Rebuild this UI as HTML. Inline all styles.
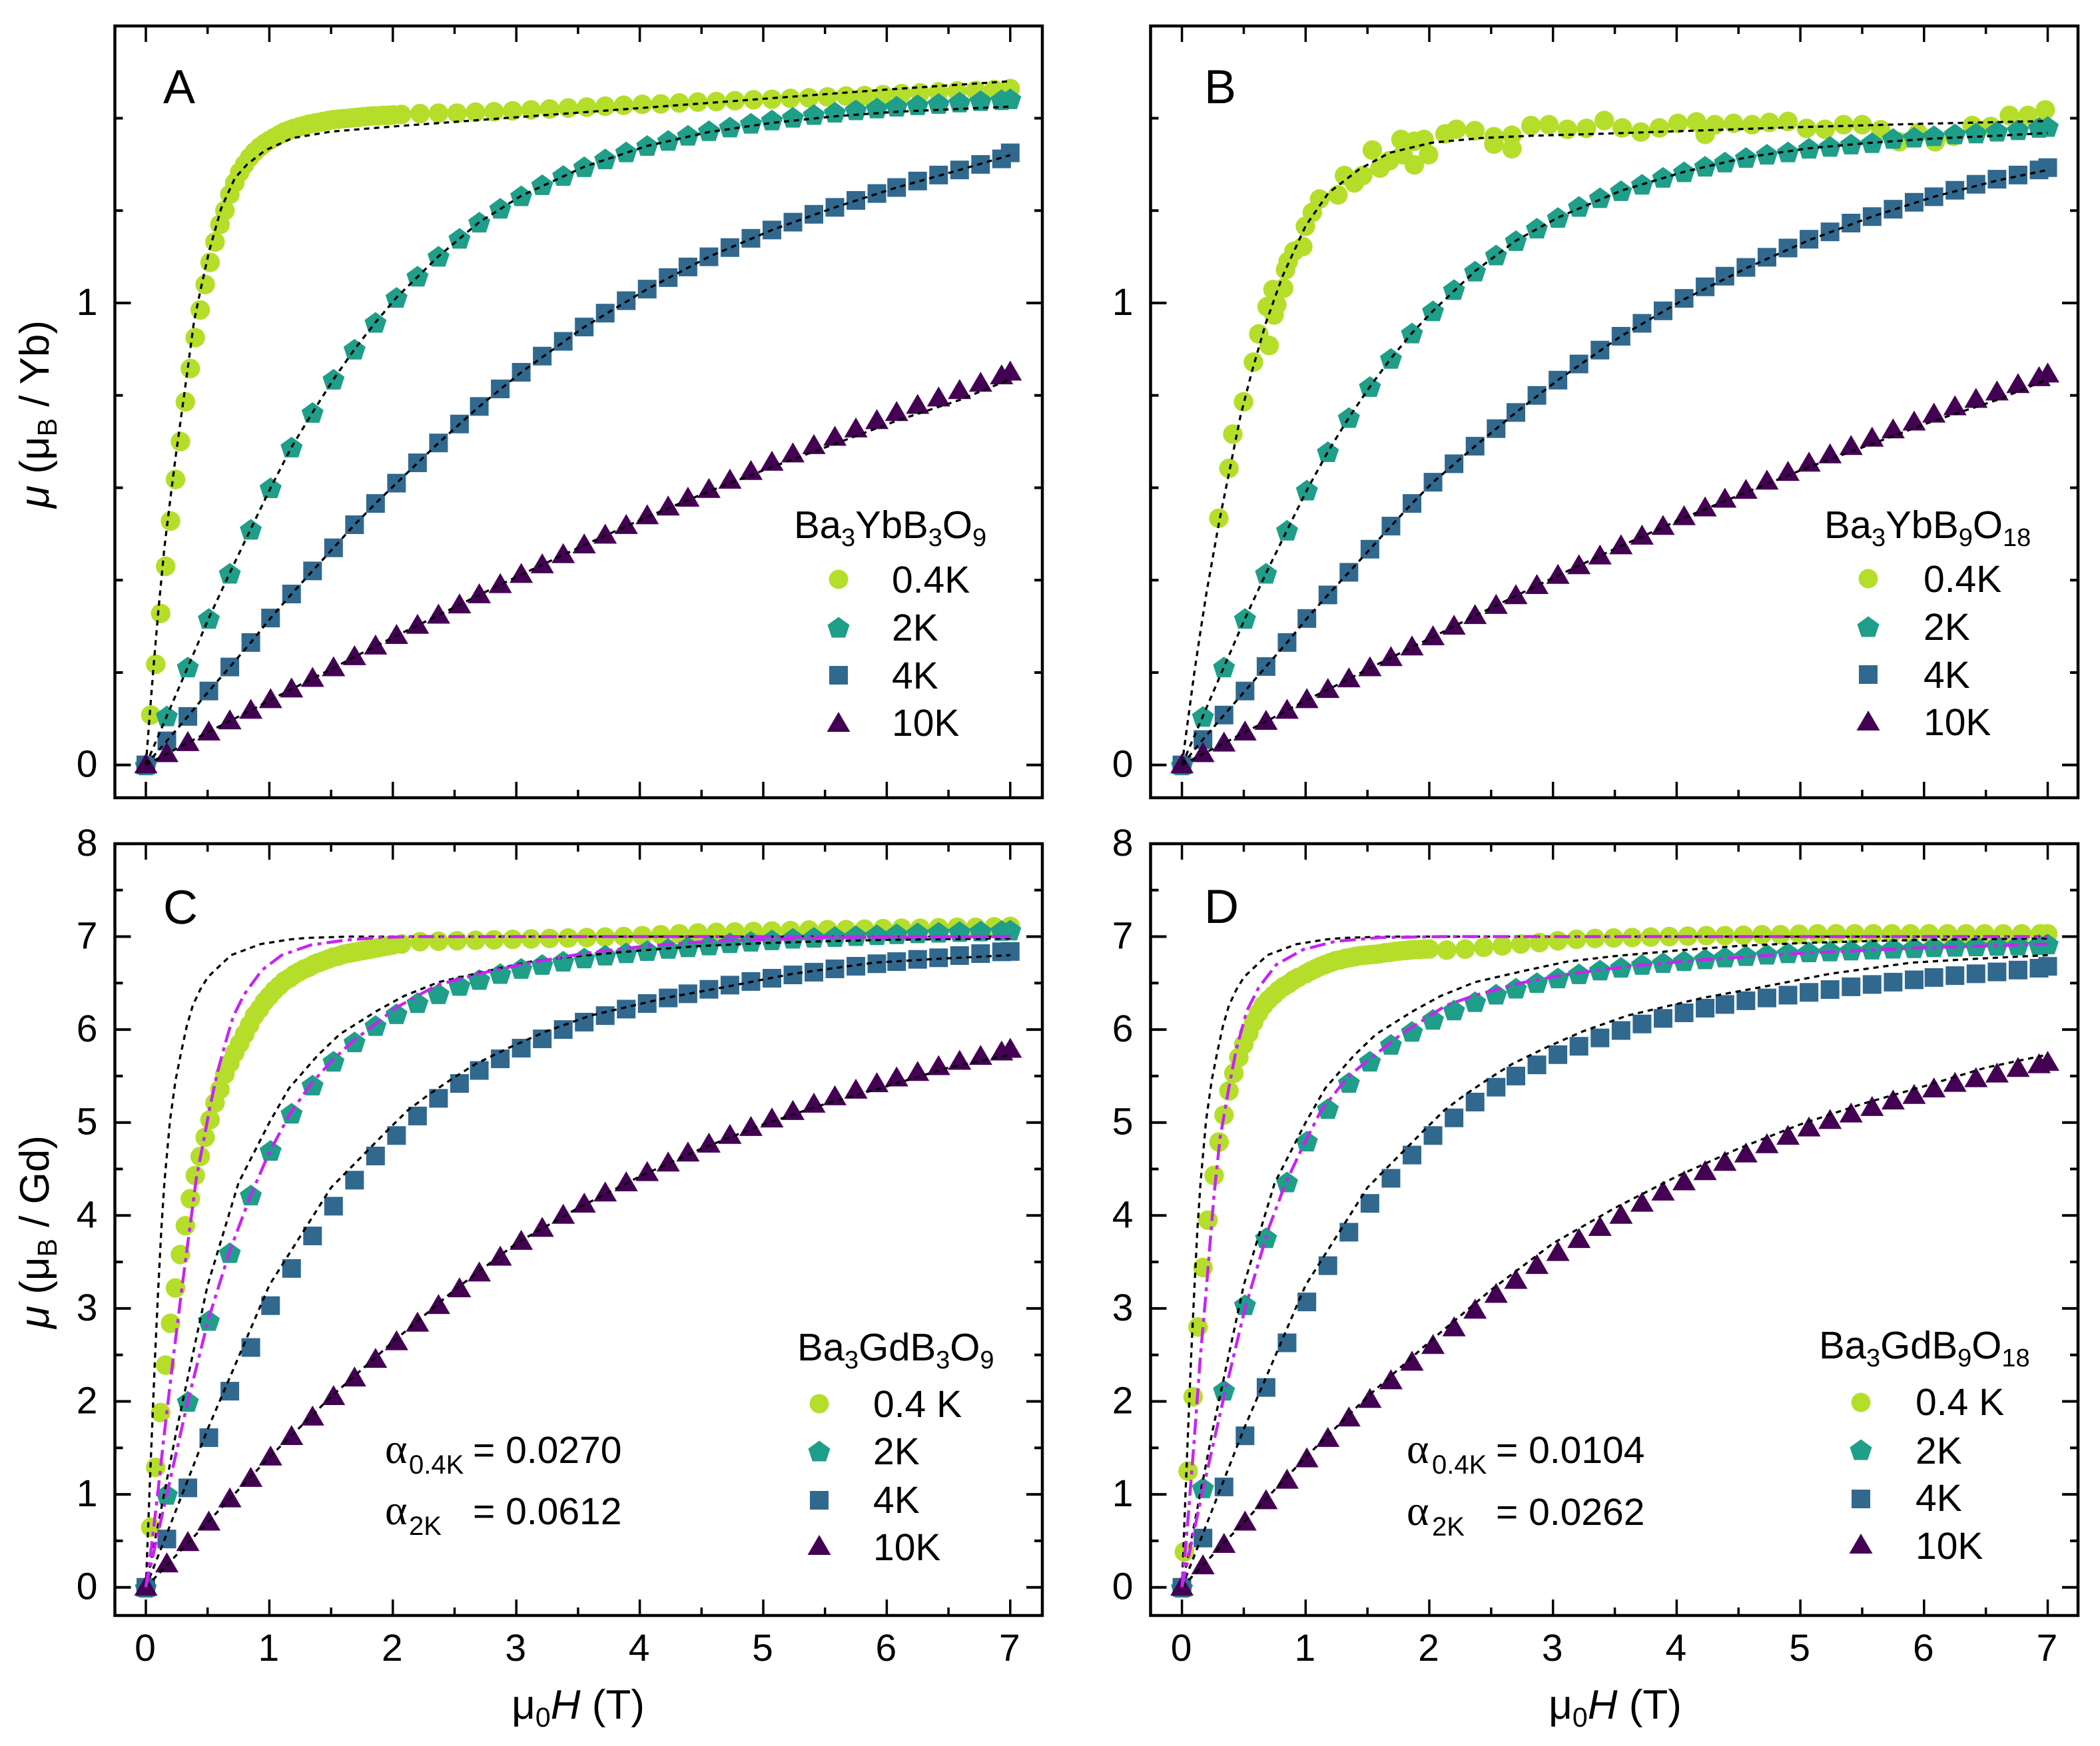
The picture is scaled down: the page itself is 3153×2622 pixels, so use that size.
<!DOCTYPE html>
<html lang="en">
<head>
<meta charset="utf-8">
<title>Magnetization curves of Ba3YbB3O9, Ba3YbB9O18, Ba3GdB3O9 and Ba3GdB9O18</title>
<style>
html,body{margin:0;padding:0;background:#fff;}
svg{display:block;}
text{font-family:"Liberation Sans",sans-serif;fill:#000;text-rendering:geometricPrecision;}
.lab{font-size:57px;}
.ttl{font-size:58px;}
.sub{font-size:40px;}
.tit{font-size:62px;}
.let{font-size:72px;}
.alpha{font-family:"Liberation Serif",serif;font-size:64px;}
.fr{fill:none;stroke:#000;stroke-width:4.5;}
</style>
</head>
<body>
<svg id="figure" xmlns="http://www.w3.org/2000/svg" width="3153" height="2622" viewBox="0 0 3153 2622">
<rect x="0" y="0" width="3153" height="2622" fill="#fff"/>

<g id="panel-a"></g>
<g id="panel-b"></g>
<g id="panel-c"></g>
<g id="panel-d"></g>

<text class="let" x="245" y="155">A</text>
<text class="let" x="1808" y="155">B</text>
<text class="let" x="245" y="1387">C</text>
<text class="let" x="1808" y="1386">D</text>

<text class="tit" transform="translate(73,622) rotate(-90)" text-anchor="middle"><tspan font-style="italic">μ</tspan> (μ<tspan font-size="41" dy="12">B</tspan><tspan dy="-12"> / Yb)</tspan></text>
<text class="tit" transform="translate(73,1850) rotate(-90)" text-anchor="middle"><tspan font-style="italic">μ</tspan> (μ<tspan font-size="41" dy="12">B</tspan><tspan dy="-12"> / Gd)</tspan></text>
<text class="tit" x="868" y="2581" text-anchor="middle">μ<tspan font-size="41" dy="12">0</tspan><tspan dy="-12" font-style="italic">H</tspan> (T)</text>
<text class="tit" x="2425" y="2581" text-anchor="middle">μ<tspan font-size="41" dy="12">0</tspan><tspan dy="-12" font-style="italic">H</tspan> (T)</text>

<g>
<text class="ttl" x="1192" y="808">Ba<tspan font-size="38" dy="12">3</tspan><tspan dy="-12">YbB</tspan><tspan font-size="38" dy="12">3</tspan><tspan dy="-12">O</tspan><tspan font-size="38" dy="12">9</tspan></text>
<circle cx="1259" cy="870" r="14.5" fill="#b5de2b"/>
<polygon transform="translate(1259,942)" points="0,-15.5 16.5,-3.5 10.2,15.5 -10.2,15.5 -16.5,-3.5" fill="#1f9e89"/>
<rect x="1245" y="1000" width="28" height="28" fill="#31688e"/>
<polygon transform="translate(1259,1086)" points="0,-17 17.5,13 -17.5,13" fill="#440154"/>
<text class="lab" x="1339" y="890">0.4K</text>
<text class="lab" x="1339" y="962">2K</text>
<text class="lab" x="1339" y="1034">4K</text>
<text class="lab" x="1339" y="1105">10K</text>
</g>

<g>
<text class="ttl" x="2739" y="808">Ba<tspan font-size="38" dy="12">3</tspan><tspan dy="-12">YbB</tspan><tspan font-size="38" dy="12">9</tspan><tspan dy="-12">O</tspan><tspan font-size="38" dy="12">18</tspan></text>
<circle cx="2805" cy="869" r="14.5" fill="#b5de2b"/>
<polygon transform="translate(2805,941)" points="0,-15.5 16.5,-3.5 10.2,15.5 -10.2,15.5 -16.5,-3.5" fill="#1f9e89"/>
<rect x="2791" y="999" width="28" height="28" fill="#31688e"/>
<polygon transform="translate(2805,1084)" points="0,-17 17.5,13 -17.5,13" fill="#440154"/>
<text class="lab" x="2888" y="889">0.4K</text>
<text class="lab" x="2888" y="961">2K</text>
<text class="lab" x="2888" y="1033">4K</text>
<text class="lab" x="2888" y="1104">10K</text>
</g>

<g>
<text class="ttl" x="1197" y="2043">Ba<tspan font-size="38" dy="12">3</tspan><tspan dy="-12">GdB</tspan><tspan font-size="38" dy="12">3</tspan><tspan dy="-12">O</tspan><tspan font-size="38" dy="12">9</tspan></text>
<circle cx="1230" cy="2108" r="14.5" fill="#b5de2b"/>
<polygon transform="translate(1230,2179)" points="0,-15.5 16.5,-3.5 10.2,15.5 -10.2,15.5 -16.5,-3.5" fill="#1f9e89"/>
<rect x="1216" y="2239" width="28" height="28" fill="#31688e"/>
<polygon transform="translate(1230,2322)" points="0,-17 17.5,13 -17.5,13" fill="#440154"/>
<text class="lab" x="1311" y="2128">0.4 K</text>
<text class="lab" x="1311" y="2199">2K</text>
<text class="lab" x="1311" y="2272">4K</text>
<text class="lab" x="1311" y="2343">10K</text>
</g>

<g>
<text class="ttl" x="2731" y="2040">Ba<tspan font-size="38" dy="12">3</tspan><tspan dy="-12">GdB</tspan><tspan font-size="38" dy="12">9</tspan><tspan dy="-12">O</tspan><tspan font-size="38" dy="12">18</tspan></text>
<circle cx="2794" cy="2106" r="14.5" fill="#b5de2b"/>
<polygon transform="translate(2794,2177)" points="0,-15.5 16.5,-3.5 10.2,15.5 -10.2,15.5 -16.5,-3.5" fill="#1f9e89"/>
<rect x="2780" y="2237" width="28" height="28" fill="#31688e"/>
<polygon transform="translate(2794,2320)" points="0,-17 17.5,13 -17.5,13" fill="#440154"/>
<text class="lab" x="2876" y="2125">0.4 K</text>
<text class="lab" x="2876" y="2198">2K</text>
<text class="lab" x="2876" y="2269">4K</text>
<text class="lab" x="2876" y="2341">10K</text>
</g>

<g>
<text class="alpha" x="578" y="2197">α</text>
<text class="sub" x="614" y="2213">0.4K</text>
<text class="lab" x="710" y="2197">= 0.0270</text>
<text class="alpha" x="578" y="2289">α</text>
<text class="sub" x="614" y="2305">2K</text>
<text class="lab" x="710" y="2289">= 0.0612</text>
</g>
<g>
<text class="alpha" x="2112" y="2197">α</text>
<text class="sub" x="2150" y="2213">0.4K</text>
<text class="lab" x="2246" y="2197">= 0.0104</text>
<text class="alpha" x="2112" y="2290">α</text>
<text class="sub" x="2150" y="2306">2K</text>
<text class="lab" x="2246" y="2290">= 0.0262</text>
</g>
</svg>

<script>
/* ---------- shared axes ---------- */
const xMajorTicks = [0,1,2,3,4,5,6,7];
const xMinorTicks = [0.5,1.5,2.5,3.5,4.5,5.5,6.5];
const xTickLabels = ["0","1","2","3","4","5","6","7"];
const yMajorYb = [0,1];
const yMinorYb = [0.2,0.4,0.6,0.8,1.2,1.4];
const yLabelsYb = ["0","1"];
const yMajorGd = [0,1,2,3,4,5,6,7];
const yMinorGd = [0.5,1.5,2.5,3.5,4.5,5.5,6.5,7.5];
const yLabelsGd = ["0","1","2","3","4","5","6","7","8"];

/* ---------- field grids (T) ---------- */
const fieldGrid = [0,0.17,0.34,0.51,0.68,0.85,1.01,1.18,1.35,1.52,1.69,1.86,2.03,2.2,2.37,2.54,2.7,2.87,3.04,3.21,3.38,3.55,3.72,3.89,4.06,4.23,4.39,4.56,4.73,4.9,5.07,5.24,5.41,5.58,5.75,5.92,6.08,6.25,6.42,6.59,6.76,6.93,7];
const fieldCold = [0,0.04,0.08,0.12,0.16,0.2,0.24,0.28,0.32,0.36,0.4,0.44,0.48,0.52,0.56,0.6,0.64,0.68,0.72,0.76,0.8,0.84,0.88,0.92,0.96,1,1.04,1.08,1.12,1.16,1.2,1.24,1.28,1.32,1.36,1.4,1.44,1.48,1.52,1.56,1.6,1.64,1.68,1.72,1.76,1.8,1.84,1.88,1.92,1.96,2,2.07,2.22,2.37,2.52,2.67,2.82,2.97,3.12,3.27,3.42,3.57,3.72,3.87,4.02,4.17,4.32,4.47,4.62,4.77,4.92,5.07,5.22,5.37,5.52,5.67,5.82,5.97,6.12,6.27,6.42,6.57,6.72,6.87,7];
const fieldColdD = [0,0.02,0.05,0.09,0.13,0.17,0.21,0.26,0.3,0.34,0.38,0.42,0.46,0.5,0.54,0.58,0.62,0.66,0.7,0.74,0.78,0.82,0.86,0.9,0.94,1,1.04,1.08,1.12,1.16,1.2,1.24,1.28,1.32,1.36,1.4,1.44,1.48,1.52,1.56,1.6,1.64,1.68,1.72,1.76,1.8,1.84,1.88,1.92,1.96,2,2.14,2.29,2.44,2.59,2.74,2.89,3.04,3.19,3.34,3.49,3.64,3.79,3.94,4.09,4.24,4.39,4.54,4.69,4.84,4.99,5.14,5.29,5.44,5.59,5.74,5.89,6.04,6.19,6.34,6.49,6.64,6.79,6.94,7];
const fieldColdB = [0,0.298,0.38,0.411,0.498,0.578,0.621,0.705,0.689,0.767,0.745,0.736,0.822,0.838,0.859,0.906,0.977,0.998,1.054,1.113,1.261,1.314,1.394,1.462,1.601,1.539,1.678,1.787,1.771,1.879,1.879,1.957,1.994,2.127,2.219,2.368,2.522,2.522,2.668,2.668,2.822,2.967,3.116,3.27,3.415,3.56,3.71,3.86,4.01,4.16,4.31,4.23,4.46,4.61,4.75,4.9,5.05,5.2,5.35,5.5,5.65,5.8,5.95,6.09,6.24,6.39,6.54,6.69,6.84,6.98];
const fitFieldGrid = [0,0.17,0.34,0.51,0.68,0.85,1.01,1.18,1.35,1.52,1.69,1.86,2.03,2.37,2.7,3.04,3.55,4.06,4.56,5.07,5.58,6.08,6.59,7];

/* ---------- panel A values ---------- */
const momentA04 = [0,0.108,0.218,0.328,0.43,0.528,0.618,0.7,0.786,0.858,0.925,0.985,1.04,1.088,1.132,1.17,1.2,1.235,1.26,1.283,1.3,1.315,1.327,1.337,1.345,1.352,1.358,1.364,1.37,1.374,1.378,1.381,1.384,1.387,1.389,1.391,1.393,1.395,1.397,1.398,1.399,1.4,1.401,1.402,1.403,1.404,1.405,1.405,1.406,1.406,1.407,1.408,1.41,1.411,1.411,1.413,1.414,1.416,1.418,1.42,1.422,1.424,1.426,1.428,1.43,1.431,1.433,1.435,1.436,1.438,1.44,1.441,1.443,1.444,1.446,1.448,1.449,1.451,1.453,1.455,1.457,1.459,1.46,1.462,1.464];
const momentA2 = [0,0.106,0.212,0.317,0.415,0.51,0.6,0.688,0.763,0.835,0.9,0.958,1.012,1.058,1.101,1.14,1.175,1.205,1.232,1.256,1.276,1.295,1.312,1.327,1.341,1.352,1.363,1.373,1.381,1.389,1.396,1.402,1.408,1.413,1.418,1.422,1.426,1.429,1.432,1.435,1.438,1.44,1.442];
const momentA4 = [0,0.052,0.105,0.16,0.212,0.265,0.318,0.37,0.42,0.47,0.52,0.566,0.61,0.654,0.697,0.738,0.776,0.814,0.85,0.885,0.917,0.948,0.978,1.005,1.03,1.055,1.078,1.1,1.12,1.14,1.158,1.175,1.192,1.207,1.222,1.237,1.25,1.264,1.277,1.288,1.3,1.312,1.325];
const momentA10 = [0,0.024,0.048,0.071,0.095,0.118,0.141,0.164,0.187,0.21,0.234,0.257,0.28,0.302,0.324,0.346,0.368,0.39,0.412,0.433,0.455,0.476,0.497,0.518,0.539,0.558,0.577,0.596,0.616,0.635,0.655,0.673,0.691,0.709,0.727,0.745,0.7625,0.778,0.794,0.81,0.826,0.842,0.85];
const fitA04Field = [0,0.03,0.06,0.1,0.15,0.2,0.24,0.32,0.39,0.44,0.51,0.61,0.72,0.82,0.97,1.19,1.5,2,3,4,5,6,7];
const fitA04 = [0,0.105,0.205,0.33,0.47,0.58,0.665,0.82,0.96,1.025,1.11,1.205,1.27,1.3,1.331,1.357,1.371,1.382,1.402,1.422,1.442,1.462,1.48];
const fitA2 = [0,0.106,0.212,0.318,0.416,0.511,0.6,0.688,0.763,0.835,0.9,0.958,1.012,1.101,1.175,1.232,1.295,1.34,1.37,1.39,1.404,1.414,1.42,1.425];
const fitA4 = [0,0.052,0.105,0.16,0.212,0.265,0.318,0.37,0.42,0.47,0.52,0.566,0.61,0.697,0.776,0.85,0.948,1.03,1.1,1.158,1.207,1.25,1.288,1.32];
const fitA10 = [0,0.024,0.048,0.072,0.095,0.118,0.141,0.164,0.187,0.21,0.234,0.257,0.28,0.324,0.368,0.412,0.476,0.537,0.592,0.645,0.695,0.745,0.79,0.835];

/* ---------- panel B values ---------- */
const momentB04 = [0,0.534,0.642,0.716,0.786,0.872,0.933,0.908,0.992,0.996,0.974,1.029,1.032,1.072,1.09,1.112,1.122,1.166,1.196,1.225,1.234,1.276,1.26,1.276,1.292,1.331,1.308,1.321,1.354,1.299,1.35,1.354,1.321,1.366,1.376,1.373,1.36,1.344,1.363,1.334,1.384,1.386,1.376,1.378,1.395,1.379,1.37,1.379,1.389,1.392,1.386,1.365,1.389,1.386,1.391,1.393,1.378,1.376,1.386,1.386,1.375,1.349,1.368,1.349,1.361,1.384,1.382,1.406,1.406,1.418];
const momentB2 = [0,0.105,0.212,0.317,0.415,0.508,0.595,0.678,0.752,0.819,0.88,0.935,0.983,1.029,1.069,1.104,1.135,1.162,1.185,1.209,1.228,1.243,1.257,1.272,1.284,1.296,1.305,1.315,1.322,1.327,1.335,1.339,1.344,1.347,1.356,1.359,1.362,1.366,1.368,1.372,1.375,1.38,1.382];
const momentB4 = [0,0.055,0.108,0.16,0.213,0.265,0.317,0.368,0.417,0.467,0.517,0.566,0.612,0.652,0.69,0.728,0.763,0.8,0.833,0.868,0.898,0.928,0.956,0.983,1.01,1.035,1.058,1.077,1.099,1.119,1.138,1.154,1.173,1.187,1.203,1.218,1.23,1.244,1.257,1.268,1.277,1.288,1.293];
const momentB10 = [0,0.024,0.047,0.071,0.094,0.118,0.141,0.163,0.186,0.21,0.232,0.255,0.277,0.3,0.323,0.345,0.366,0.388,0.41,0.431,0.452,0.474,0.495,0.516,0.537,0.556,0.575,0.594,0.614,0.633,0.653,0.671,0.689,0.707,0.725,0.742,0.759,0.775,0.791,0.807,0.823,0.838,0.846];
const fitB04Field = [0,0.05,0.1,0.15,0.2,0.3,0.396,0.473,0.566,0.68,0.813,1,1.184,1.431,1.678,2.02,2.42,2.82,3.35,4.15,4.9,6,7];
const fitB04 = [0,0.1,0.2,0.29,0.375,0.525,0.652,0.755,0.852,0.958,1.058,1.167,1.238,1.289,1.325,1.347,1.357,1.362,1.366,1.373,1.38,1.388,1.394];
const fitB2 = [0,0.106,0.212,0.317,0.415,0.508,0.595,0.678,0.752,0.819,0.88,0.935,0.983,1.069,1.135,1.185,1.243,1.284,1.315,1.335,1.347,1.356,1.362,1.368];
const fitB4 = [0,0.055,0.108,0.16,0.213,0.265,0.317,0.368,0.417,0.467,0.517,0.566,0.612,0.69,0.763,0.833,0.928,1.008,1.075,1.136,1.187,1.23,1.265,1.288];
const fitB10 = [0,0.024,0.047,0.071,0.094,0.118,0.141,0.163,0.186,0.21,0.232,0.255,0.277,0.323,0.366,0.41,0.474,0.535,0.59,0.645,0.695,0.745,0.79,0.835];

/* ---------- panel C values ---------- */
const momentC04 = [0,0.645,1.29,1.88,2.39,2.84,3.22,3.58,3.89,4.18,4.43,4.635,4.84,5.03,5.21,5.356,5.52,5.64,5.75,5.85,5.95,6.05,6.15,6.22,6.3,6.36,6.42,6.47,6.52,6.55,6.59,6.62,6.65,6.67,6.7,6.72,6.74,6.76,6.78,6.79,6.81,6.82,6.83,6.84,6.85,6.86,6.87,6.88,6.89,6.9,6.91,6.92,6.945,6.95,6.955,6.96,6.965,6.97,6.975,6.98,6.985,6.99,6.995,7,7.01,7.02,7.03,7.04,7.045,7.05,7.055,7.06,7.065,7.07,7.075,7.075,7.08,7.085,7.09,7.09,7.095,7.1,7.1,7.105,7.11];
const momentC2 = [0,1,2,2.87,3.6,4.22,4.7,5.1,5.403,5.659,5.867,6.043,6.17,6.289,6.385,6.474,6.538,6.602,6.657,6.7,6.735,6.77,6.8,6.825,6.85,6.873,6.89,6.91,6.934,6.95,6.965,6.982,6.992,7,7.01,7.02,7.03,7.04,7.047,7.055,7.06,7.065,7.07];
const momentC4 = [0,0.52,1.07,1.61,2.11,2.58,3.03,3.43,3.78,4.1,4.38,4.64,4.86,5.07,5.26,5.42,5.56,5.685,5.8,5.9,6,6.08,6.15,6.22,6.28,6.34,6.385,6.433,6.478,6.517,6.552,6.588,6.617,6.653,6.681,6.708,6.731,6.755,6.772,6.796,6.817,6.836,6.84];
const momentC10 = [0,0.25,0.48,0.7,0.95,1.17,1.4,1.62,1.83,2.05,2.25,2.45,2.64,2.84,3.03,3.21,3.38,3.55,3.72,3.86,4,4.12,4.24,4.35,4.46,4.563,4.67,4.766,4.86,4.945,5.036,5.117,5.196,5.275,5.346,5.416,5.478,5.537,5.6,5.657,5.71,5.757,5.786];
const magC04Field = [0,0.03,0.06,0.1,0.14,0.18,0.22,0.3,0.41,0.473,0.518,0.58,0.643,0.707,0.797,0.94,1.1,1.336,1.606,1.875,2.15,3,7];
const magC04 = [0,0.28,0.6,1.05,1.55,2,2.45,3.3,4.41,4.84,5.16,5.54,5.85,6.14,6.38,6.64,6.8,6.91,6.96,6.99,7,7,7];
const magC2Field = [0,0.17,0.34,0.51,0.68,0.85,1,1.17,1.34,1.51,1.68,1.85,2.02,2.36,2.7,3.04,3.55,4.06,4.56,5.07,5.58,7];
const magC2 = [0,1,2,2.9,3.62,4.22,4.68,5.1,5.42,5.67,5.88,6.05,6.23,6.48,6.6,6.7,6.82,6.9,6.95,6.97,6.99,7];

/* ---------- panel D values ---------- */
const momentD04 = [0,0.38,1.25,2.05,2.8,3.44,3.95,4.43,4.79,5.08,5.34,5.53,5.7,5.84,5.96,6.08,6.18,6.26,6.32,6.37,6.42,6.46,6.49,6.53,6.56,6.6,6.63,6.655,6.68,6.7,6.72,6.74,6.75,6.765,6.775,6.785,6.795,6.8,6.805,6.81,6.815,6.825,6.83,6.84,6.845,6.85,6.855,6.86,6.862,6.865,6.867,6.855,6.865,6.885,6.9,6.92,6.935,6.955,6.97,6.98,6.985,6.99,6.995,7,7.005,7.01,7.01,7.015,7.02,7.02,7.025,7.03,7.03,7.03,7.03,7.03,7.03,7.03,7.03,7.03,7.03,7.03,7.03,7.03,7.03];
const momentD2 = [0,1.07,2.12,3.04,3.76,4.36,4.8,5.15,5.43,5.66,5.84,5.98,6.11,6.21,6.3,6.38,6.445,6.505,6.555,6.6,6.64,6.67,6.7,6.72,6.74,6.76,6.78,6.795,6.81,6.825,6.835,6.845,6.855,6.865,6.875,6.88,6.89,6.895,6.9,6.905,6.91,6.915,6.92];
const momentD4 = [0,0.53,1.08,1.63,2.15,2.63,3.07,3.46,3.82,4.13,4.4,4.65,4.86,5.05,5.22,5.38,5.5,5.62,5.73,5.82,5.91,5.99,6.06,6.12,6.18,6.23,6.27,6.31,6.34,6.37,6.4,6.43,6.46,6.485,6.51,6.535,6.56,6.58,6.6,6.62,6.64,6.66,6.68];
const momentD10 = [0,0.23,0.46,0.7,0.93,1.15,1.38,1.6,1.82,2.02,2.22,2.42,2.6,2.79,2.98,3.15,3.3,3.46,3.6,3.74,3.87,4,4.13,4.25,4.36,4.47,4.57,4.66,4.76,4.85,4.94,5.02,5.09,5.16,5.23,5.29,5.36,5.42,5.47,5.52,5.58,5.62,5.645];
const magD04Field = [0,0.05,0.1,0.15,0.2,0.236,0.26,0.308,0.38,0.44,0.524,0.62,0.764,0.98,1.245,1.606,2.13,3,7];
const magD04 = [0,0.75,1.6,2.5,3.25,3.84,4.23,4.83,5.38,5.79,6.2,6.45,6.7,6.86,6.95,6.99,7,7,7];
const magD2Field = [0,0.17,0.34,0.51,0.704,0.836,0.98,1.125,1.341,1.486,1.774,2.135,2.375,2.736,3.096,3.6,4.2,5,6,7];
const magD2 = [0,1.05,2.05,3,3.87,4.34,4.75,5.13,5.49,5.65,5.95,6.26,6.37,6.5,6.59,6.68,6.75,6.82,6.88,6.92];

/* ---------- Gd paramagnet reference curves (panels C, D) ---------- */
const gdFit04Field = [0,0.03,0.05,0.075,0.1,0.125,0.15,0.195,0.24,0.285,0.33,0.38,0.44,0.5,0.53,0.69,0.93,1.17,1.3,1.65,1.85,2.5,4,7];
const gdFit04 = [0,1.05,1.7,2.5,3.2,3.85,4.35,5.02,5.45,5.75,6.03,6.26,6.43,6.56,6.6,6.8,6.92,6.97,6.986,7,7,7,7,7];
const gdFit2Field = [0,0.25,0.5,0.75,1,1.16,1.39,1.57,1.87,2.09,2.37,2.76,3.11,3.5,4,4.5,5,5.5,6,7];
const gdFit2 = [0,1.7,3.25,4.35,5,5.37,5.72,5.95,6.2,6.36,6.51,6.63,6.73,6.79,6.85,6.9,6.93,6.95,6.965,6.98];
const gdFit4Field = [0,0.5,1,1.5,1.96,2.12,2.29,2.48,2.67,2.95,3.24,3.6,4.21,4.7,5.24,5.9,6.4,7];
const gdFit4 = [0,1.7,3.25,4.3,4.92,5.13,5.3,5.47,5.63,5.81,5.98,6.15,6.34,6.46,6.6,6.72,6.76,6.8];
const gdFit10Field = [0,0.5,1,1.5,2,2.5,3,3.5,4,4.5,5,5.5,6,6.5,7];
const gdFit10 = [0,0.7,1.4,2.05,2.64,3.2,3.7,4.08,4.42,4.72,4.98,5.2,5.39,5.59,5.73];

const SVGNS = 'http://www.w3.org/2000/svg';
const COLORS = {cold:'#b5de2b', two:'#1f9e89', four:'#31688e', ten:'#440154', magenta:'#c724f2'};

function xAxis(panel, v){ return panel.x0 + v * panel.xUnit; }
function yAxis(panel, v){ return panel.y0 - v * panel.yUnit; }

function addTickLine(group, x1, y1, x2, y2, width){
  const line = document.createElementNS(SVGNS, 'line');
  line.setAttribute('x1', x1);
  line.setAttribute('y1', y1);
  line.setAttribute('x2', x2);
  line.setAttribute('y2', y2);
  line.setAttribute('stroke', '#000');
  line.setAttribute('stroke-width', width);
  
  
  group.appendChild(line);
}

function addLabel(group, x, y, txt, anchor, name){
  const t = document.createElementNS(SVGNS, 'text');
  t.setAttribute('x', x);
  t.setAttribute('y', y);
  t.setAttribute('text-anchor', anchor);
  t.setAttribute('font-size', '57');
  
  
  t.textContent = txt;
  group.appendChild(t);
}

function drawMarker(group, shape, px, py, seriesName){
  let el;
  if (shape === 'circle') {
    el = document.createElementNS(SVGNS, 'circle');
    el.setAttribute('cx', px);
    el.setAttribute('cy', py);
    el.setAttribute('r', 14.7);
    el.setAttribute('fill', COLORS.cold);
  } else if (shape === 'pentagon') {
    el = document.createElementNS(SVGNS, 'polygon');
    el.setAttribute('points', '0,-15.5 16.5,-3.5 10.2,15.5 -10.2,15.5 -16.5,-3.5');
    el.setAttribute('transform', 'translate(' + px + ',' + py + ')');
    el.setAttribute('fill', COLORS.two);
  } else if (shape === 'square') {
    el = document.createElementNS(SVGNS, 'rect');
    el.setAttribute('x', px - 14);
    el.setAttribute('y', py - 14);
    el.setAttribute('width', 28);
    el.setAttribute('height', 28);
    el.setAttribute('fill', COLORS.four);
  } else {
    el = document.createElementNS(SVGNS, 'polygon');
    el.setAttribute('points', '0,-17.5 17.5,12.5 -17.5,12.5');
    el.setAttribute('transform', 'translate(' + px + ',' + py + ')');
    el.setAttribute('fill', COLORS.ten);
  }
  
  
  group.appendChild(el);
}

function drawSeries(panel, xs, ys, shape, seriesName){
  const g = document.createElementNS(SVGNS, 'g');
  
  
  for (let i = 0; i < ys.length; i++) {
    drawMarker(g, shape, xAxis(panel, xs[i]), yAxis(panel, ys[i]), seriesName);
  }
  panel.el.appendChild(g);
}

function drawCurve(panel, xs, ys, kind, name){
  const pts = [];
  for (let i = 0; i < ys.length; i++) {
    pts.push(xAxis(panel, xs[i]).toFixed(1) + ',' + yAxis(panel, ys[i]).toFixed(1));
  }
  const line = document.createElementNS(SVGNS, 'polyline');
  line.setAttribute('points', pts.join(' '));
  line.setAttribute('fill', 'none');
  if (kind === 'magenta') {
    line.setAttribute('stroke', COLORS.magenta);
    line.setAttribute('stroke-width', '4.5');
    line.setAttribute('stroke-dasharray', '24 8 6 8');
  } else {
    line.setAttribute('stroke', '#000');
    line.setAttribute('stroke-width', '3.3');
    line.setAttribute('stroke-dasharray', '8 7');
  }
  
  
  panel.el.appendChild(line);
}

function drawAxes(panel){
  const g = document.createElementNS(SVGNS, 'g');
  
  
  xMajorTicks.forEach(function(v){
    const x = xAxis(panel, v);
    addTickLine(g, x, panel.bottom, x, panel.bottom - 24, 3.5);
    addTickLine(g, x, panel.top, x, panel.top + 24, 3.5);
  });
  xMinorTicks.forEach(function(v){
    const x = xAxis(panel, v);
    addTickLine(g, x, panel.bottom, x, panel.bottom - 12, 3.5);
    addTickLine(g, x, panel.top, x, panel.top + 12, 3.5);
  });
  panel.yMajor.forEach(function(v){
    const y = yAxis(panel, v);
    addTickLine(g, panel.left, y, panel.left + 24, y, 4);
    addTickLine(g, panel.right, y, panel.right - 24, y, 4);
  });
  panel.yMinor.forEach(function(v){
    const y = yAxis(panel, v);
    addTickLine(g, panel.left, y, panel.left + 12, y, 4);
    addTickLine(g, panel.right, y, panel.right - 12, y, 4);
  });
  panel.yLabels.forEach(function(txt, i){
    addLabel(g, panel.left - 26, yAxis(panel, i) + 18, txt, 'end', 'y-tick-label');
  });
  if (panel.showX) {
    xTickLabels.forEach(function(txt, i){
      addLabel(g, xAxis(panel, i) - 1, 2494, txt, 'middle', 'x-tick-label');
    });
  }
  const frame = document.createElementNS(SVGNS, 'rect');
  frame.setAttribute('x', panel.left);
  frame.setAttribute('y', panel.top);
  frame.setAttribute('width', panel.right - panel.left);
  frame.setAttribute('height', panel.bottom - panel.top);
  frame.setAttribute('class', 'fr');
  
  
  g.appendChild(frame);
  panel.el.appendChild(g);
}

const panelA = {el:document.getElementById('panel-a'), left:172.5, right:1565, top:39, bottom:1198, x0:219, xUnit:185.4, y0:1148.7, yUnit:693.7, yMajor:yMajorYb, yMinor:yMinorYb, yLabels:yLabelsYb, showX:false};
const panelB = {el:document.getElementById('panel-b'), left:1727.5, right:3120, top:39, bottom:1198, x0:1774.6, xUnit:185.7, y0:1148.7, yUnit:693.7, yMajor:yMajorYb, yMinor:yMinorYb, yLabels:yLabelsYb, showX:false};
const panelC = {el:document.getElementById('panel-c'), left:172.5, right:1565, top:1267, bottom:2426, x0:219, xUnit:185.4, y0:2383.7, yUnit:139.6, yMajor:yMajorGd, yMinor:yMinorGd, yLabels:yLabelsGd, showX:true};
const panelD = {el:document.getElementById('panel-d'), left:1727.5, right:3120, top:1267, bottom:2426, x0:1774.6, xUnit:185.7, y0:2383.7, yUnit:139.6, yMajor:yMajorGd, yMinor:yMinorGd, yLabels:yLabelsGd, showX:true};

/* Panel A */
drawAxes(panelA);
drawSeries(panelA, fieldCold, momentA04, 'circle', 'series-0-4k');
drawSeries(panelA, fieldGrid, momentA2, 'pentagon', 'series-2k');
drawSeries(panelA, fieldGrid, momentA4, 'square', 'series-4k');
drawSeries(panelA, fieldGrid, momentA10, 'triangle', 'series-10k');
drawCurve(panelA, fitA04Field, fitA04, 'black', 'fit-0-4k');
drawCurve(panelA, fitFieldGrid, fitA2, 'black', 'fit-2k');
drawCurve(panelA, fitFieldGrid, fitA4, 'black', 'fit-4k');
drawCurve(panelA, fitFieldGrid, fitA10, 'black', 'fit-10k');

/* Panel B */
drawAxes(panelB);
drawSeries(panelB, fieldColdB, momentB04, 'circle', 'series-0-4k');
drawSeries(panelB, fieldGrid, momentB2, 'pentagon', 'series-2k');
drawSeries(panelB, fieldGrid, momentB4, 'square', 'series-4k');
drawSeries(panelB, fieldGrid, momentB10, 'triangle', 'series-10k');
drawCurve(panelB, fitB04Field, fitB04, 'black', 'fit-0-4k');
drawCurve(panelB, fitFieldGrid, fitB2, 'black', 'fit-2k');
drawCurve(panelB, fitFieldGrid, fitB4, 'black', 'fit-4k');
drawCurve(panelB, fitFieldGrid, fitB10, 'black', 'fit-10k');

/* Panel C */
drawAxes(panelC);
drawSeries(panelC, fieldCold, momentC04, 'circle', 'series-0-4k');
drawSeries(panelC, fieldGrid, momentC2, 'pentagon', 'series-2k');
drawSeries(panelC, fieldGrid, momentC4, 'square', 'series-4k');
drawSeries(panelC, fieldGrid, momentC10, 'triangle', 'series-10k');
drawCurve(panelC, gdFit04Field, gdFit04, 'black', 'paramagnet-0-4k');
drawCurve(panelC, gdFit2Field, gdFit2, 'black', 'paramagnet-2k');
drawCurve(panelC, gdFit4Field, gdFit4, 'black', 'paramagnet-4k');
drawCurve(panelC, gdFit10Field, gdFit10, 'black', 'paramagnet-10k');
drawCurve(panelC, magC04Field, magC04, 'magenta', 'alpha-fit-0-4k');
drawCurve(panelC, magC2Field, magC2, 'magenta', 'alpha-fit-2k');

/* Panel D */
drawAxes(panelD);
drawSeries(panelD, fieldColdD, momentD04, 'circle', 'series-0-4k');
drawSeries(panelD, fieldGrid, momentD2, 'pentagon', 'series-2k');
drawSeries(panelD, fieldGrid, momentD4, 'square', 'series-4k');
drawSeries(panelD, fieldGrid, momentD10, 'triangle', 'series-10k');
drawCurve(panelD, gdFit04Field, gdFit04, 'black', 'paramagnet-0-4k');
drawCurve(panelD, gdFit2Field, gdFit2, 'black', 'paramagnet-2k');
drawCurve(panelD, gdFit4Field, gdFit4, 'black', 'paramagnet-4k');
drawCurve(panelD, gdFit10Field, gdFit10, 'black', 'paramagnet-10k');
drawCurve(panelD, magD04Field, magD04, 'magenta', 'alpha-fit-0-4k');
drawCurve(panelD, magD2Field, magD2, 'magenta', 'alpha-fit-2k');
</script>
</body>
</html>
